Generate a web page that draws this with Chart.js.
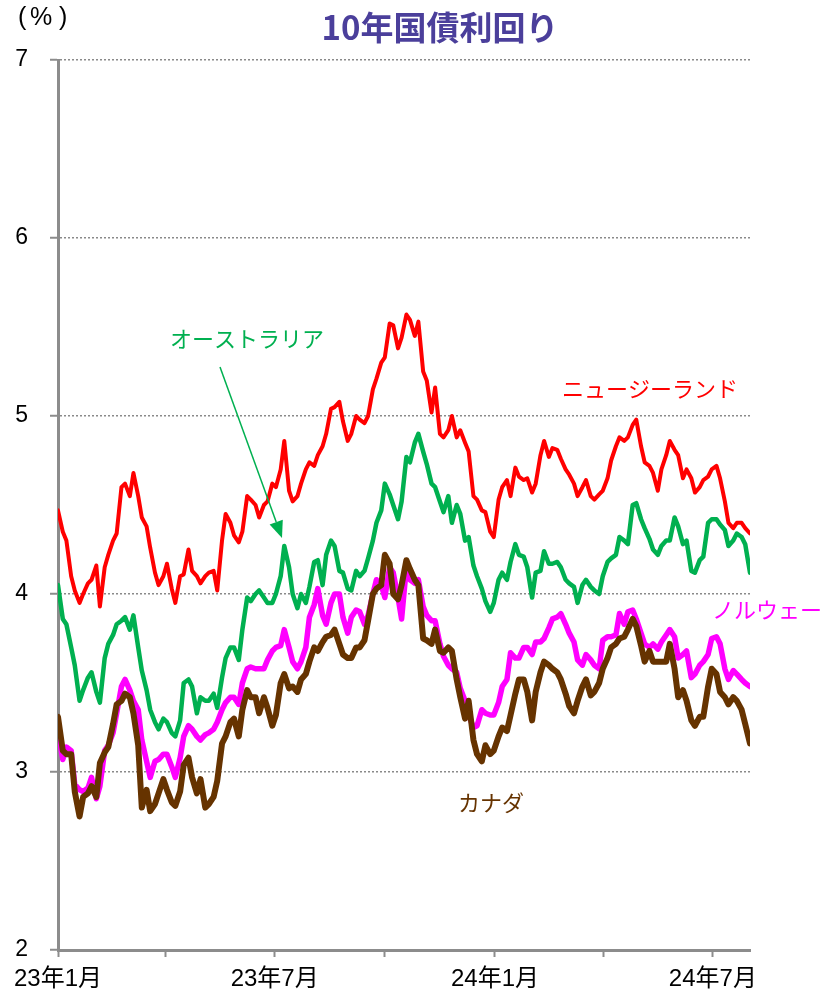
<!DOCTYPE html>
<html lang="ja">
<head>
<meta charset="utf-8">
<title>10年国債利回り</title>
<script src="https://cdn.jsdelivr.net/npm/chart.js@4.4.1/dist/chart.umd.min.js"></script>
<style>
    html, body { margin: 0; padding: 0; background: #fff; }
    #wrap { width: 821px; height: 996px; }
</style>
</head>
<body>
<div id="wrap"><canvas id="yieldChart" width="821" height="996"></canvas></div>
<script>
// days since 2023-01-01, two readings a week (last one is 2024-08-01)
const obsDays = [
    0, 4, 7, 11, 14, 18, 21, 25, 28, 32,
    35, 39, 42, 46, 49, 53, 56, 60, 63, 67,
    70, 74, 77, 81, 84, 88, 91, 95, 98, 102,
    105, 109, 112, 116, 119, 123, 126, 130, 133, 137,
    140, 144, 147, 151, 154, 158, 161, 165, 168, 172,
    175, 179, 182, 186, 189, 193, 196, 200, 203, 207,
    210, 214, 217, 221, 224, 228, 231, 235, 238, 242,
    245, 249, 252, 256, 259, 263, 266, 270, 273, 277,
    280, 284, 287, 291, 294, 298, 301, 305, 308, 312,
    315, 319, 322, 326, 329, 333, 336, 340, 343, 347,
    350, 354, 357, 361, 364, 368, 371, 375, 378, 382,
    385, 389, 392, 396, 399, 403, 406, 410, 413, 417,
    420, 424, 427, 431, 434, 438, 441, 445, 448, 452,
    455, 459, 462, 466, 469, 473, 476, 480, 483, 487,
    490, 494, 497, 501, 504, 508, 511, 515, 518, 522,
    525, 529, 532, 536, 539, 543, 546, 550, 553, 557,
    560, 564, 567, 571, 574, 578
];

// New Zealand
const nzYield = [
    4.47, 4.35, 4.30, 4.10, 4.02, 3.95, 4.00, 4.06, 4.08, 4.16,
    3.93, 4.15, 4.22, 4.30, 4.34, 4.60, 4.62, 4.55, 4.68, 4.55,
    4.43, 4.38, 4.26, 4.12, 4.05, 4.10, 4.17, 4.03, 3.95, 4.10,
    4.11, 4.25, 4.13, 4.10, 4.06, 4.10, 4.12, 4.13, 4.02, 4.30,
    4.45, 4.40, 4.33, 4.29, 4.35, 4.55, 4.53, 4.50, 4.43, 4.50,
    4.52, 4.62, 4.60, 4.70, 4.86, 4.58, 4.52, 4.55, 4.62, 4.70,
    4.74, 4.72, 4.78, 4.83, 4.90, 5.04, 5.05, 5.08, 4.97, 4.86,
    4.90, 5.00, 4.98, 4.96, 5.00, 5.15, 5.21, 5.30, 5.33, 5.52,
    5.51, 5.38, 5.44, 5.57, 5.54, 5.45, 5.53, 5.25, 5.20, 5.02,
    5.16, 4.90, 4.88, 4.92, 5.00, 4.88, 4.92, 4.85, 4.80, 4.55,
    4.53, 4.47, 4.46, 4.35, 4.32, 4.53, 4.60, 4.64, 4.55, 4.71,
    4.66, 4.64, 4.65, 4.57, 4.62, 4.78, 4.86, 4.77, 4.82, 4.81,
    4.76, 4.70, 4.67, 4.62, 4.55, 4.60, 4.64, 4.55, 4.53, 4.56,
    4.58, 4.65, 4.75, 4.83, 4.88, 4.86, 4.88, 4.95, 4.98, 4.83,
    4.74, 4.72, 4.68, 4.58, 4.70, 4.78, 4.86, 4.81, 4.78, 4.65,
    4.70, 4.65, 4.57, 4.60, 4.64, 4.66, 4.70, 4.72, 4.65, 4.52,
    4.40, 4.37, 4.40, 4.40, 4.37, 4.34
];

// Australia
const auYield = [
    4.05, 3.86, 3.83, 3.70, 3.60, 3.40, 3.46, 3.53, 3.56, 3.45,
    3.39, 3.64, 3.72, 3.77, 3.83, 3.85, 3.87, 3.80, 3.88, 3.70,
    3.57, 3.46, 3.35, 3.28, 3.24, 3.30, 3.28, 3.22, 3.20, 3.29,
    3.50, 3.52, 3.48, 3.33, 3.42, 3.40, 3.40, 3.44, 3.36, 3.53,
    3.64, 3.70, 3.70, 3.63, 3.80, 3.98, 3.96, 4.00, 4.02, 3.98,
    3.95, 3.95, 4.00, 4.10, 4.27, 4.15, 4.00, 3.92, 4.00, 3.95,
    4.04, 4.18, 4.19, 4.05, 4.22, 4.30, 4.27, 4.13, 4.12, 4.03,
    4.02, 4.13, 4.10, 4.13, 4.20, 4.30, 4.40, 4.47, 4.62, 4.56,
    4.50, 4.42, 4.52, 4.77, 4.74, 4.85, 4.90, 4.80, 4.73, 4.62,
    4.60, 4.52, 4.46, 4.55, 4.40, 4.50, 4.45, 4.30, 4.32, 4.16,
    4.10, 4.03, 3.96, 3.90, 3.95, 4.08, 4.12, 4.08, 4.18, 4.28,
    4.22, 4.21, 4.15, 3.98, 4.12, 4.13, 4.24, 4.17, 4.17, 4.18,
    4.15, 4.08, 4.06, 4.04, 3.95, 4.05, 4.08, 4.04, 4.02, 4.00,
    4.10, 4.18, 4.20, 4.22, 4.32, 4.30, 4.28, 4.50, 4.51, 4.42,
    4.37, 4.31, 4.25, 4.22, 4.27, 4.30, 4.30, 4.43, 4.38, 4.28,
    4.30, 4.13, 4.12, 4.19, 4.21, 4.40, 4.42, 4.42, 4.39, 4.36,
    4.27, 4.30, 4.34, 4.32, 4.28, 4.12
];

// Norway
const noYield = [
    3.22, 3.07, 3.14, 3.12, 2.93, 2.90, 2.89, 2.91, 2.97, 2.85,
    2.92, 3.12, 3.15, 3.22, 3.33, 3.48, 3.52, 3.46, 3.40, 3.35,
    3.18, 3.06, 2.97, 3.06, 3.07, 3.10, 3.10, 3.03, 2.97, 3.08,
    3.20, 3.26, 3.24, 3.20, 3.18, 3.21, 3.22, 3.24, 3.28, 3.35,
    3.39, 3.42, 3.42, 3.38, 3.50, 3.58, 3.59, 3.58, 3.58, 3.58,
    3.63, 3.68, 3.70, 3.71, 3.80, 3.70, 3.62, 3.58, 3.62, 3.70,
    3.87, 3.94, 4.03, 3.88, 3.83, 3.95, 4.00, 4.00, 3.87, 3.78,
    3.87, 3.91, 3.90, 3.83, 3.88, 4.00, 4.08, 4.05, 3.98, 4.15,
    4.12, 3.98, 3.86, 4.15, 4.08, 4.06, 4.08, 3.93, 3.88, 3.85,
    3.85, 3.72, 3.65, 3.60, 3.58, 3.56, 3.47, 3.40, 3.32, 3.25,
    3.26, 3.35, 3.33, 3.32, 3.32, 3.39, 3.48, 3.52, 3.67, 3.64,
    3.64, 3.70, 3.70, 3.66, 3.73, 3.73, 3.75, 3.81, 3.86, 3.87,
    3.89, 3.83, 3.78, 3.73, 3.63, 3.60, 3.66, 3.63, 3.60, 3.58,
    3.74, 3.76, 3.76, 3.77, 3.89, 3.83, 3.90, 3.91, 3.86, 3.78,
    3.72, 3.70, 3.72, 3.69, 3.73, 3.77, 3.80, 3.76, 3.64, 3.66,
    3.68, 3.53, 3.55, 3.60, 3.62, 3.66, 3.75, 3.76, 3.72, 3.58,
    3.52, 3.57, 3.55, 3.52, 3.50, 3.48
];

// Canada
const caYield = [
    3.31, 3.12, 3.10, 3.10, 2.89, 2.75, 2.86, 2.88, 2.92, 2.86,
    3.05, 3.11, 3.14, 3.27, 3.38, 3.40, 3.44, 3.42, 3.33, 3.15,
    2.80, 2.90, 2.78, 2.82, 2.88, 2.96, 2.90, 2.83, 2.81, 2.89,
    3.04, 3.08, 2.97, 2.88, 2.96, 2.80, 2.82, 2.86, 2.95, 3.16,
    3.20, 3.28, 3.30, 3.20, 3.35, 3.46, 3.42, 3.42, 3.33, 3.42,
    3.36, 3.26, 3.32, 3.50, 3.55, 3.47, 3.48, 3.45, 3.52, 3.55,
    3.62, 3.70, 3.68, 3.73, 3.76, 3.77, 3.80, 3.72, 3.66, 3.64,
    3.64, 3.70, 3.70, 3.74, 3.85, 4.00, 4.03, 4.05, 4.22, 4.17,
    4.00, 3.97, 4.05, 4.19, 4.14, 4.08, 4.05, 3.75, 3.74, 3.72,
    3.80, 3.68, 3.67, 3.70, 3.68, 3.52, 3.42, 3.30, 3.40, 3.18,
    3.10, 3.06, 3.15, 3.10, 3.12, 3.20, 3.25, 3.23, 3.32, 3.44,
    3.52, 3.52, 3.45, 3.29, 3.45, 3.56, 3.62, 3.60, 3.58, 3.56,
    3.52, 3.44, 3.37, 3.33, 3.40, 3.48, 3.52, 3.43, 3.45, 3.50,
    3.58, 3.64, 3.70, 3.72, 3.75, 3.76, 3.80, 3.86, 3.82, 3.71,
    3.62, 3.68, 3.62, 3.62, 3.62, 3.62, 3.72, 3.58, 3.42, 3.46,
    3.40, 3.29, 3.26, 3.31, 3.31, 3.48, 3.58, 3.55, 3.45, 3.42,
    3.38, 3.42, 3.40, 3.35, 3.27, 3.16
];

// quarterly tick marks on the x axis, labels only every half year
const tickDays = [0, 90, 181, 273, 365, 456, 547];
const tickLabels = ['23年1月', '', '23年7月', '', '24年1月', '', '24年7月'];

const FONT_LATIN = '"Liberation Sans", Arial, "Noto Sans CJK JP", sans-serif';
const FONT_JP = '"Noto Sans CJK JP", "Liberation Sans", sans-serif';
const AXIS_GRAY = '#8c8c8c';

function toPoints(values) {
    return values.map((v, i) => ({ x: obsDays[i], y: v }));
}

function makeDataset(label, values, color, width) {
    return {
        label: label,
        data: toPoints(values),
        borderColor: color,
        backgroundColor: color,
        borderWidth: width,
        borderJoinStyle: 'round',
        borderCapStyle: 'round',
        pointRadius: 0,
        tension: 0,
        fill: false
    };
}

// Title, unit, series names and the arrow
const annotationPlugin = {
    id: 'annotations',
    afterDraw(chart) {
        const ctx = chart.ctx;
        ctx.save();
        ctx.textBaseline = 'middle';

        // unit "（%）"
        ctx.fillStyle = '#000';
        ctx.textAlign = 'left';
        ctx.font = '25px ' + FONT_LATIN;
        ctx.fillText('(', 18, 18);
        ctx.fillText('%', 30, 18);
        ctx.fillText(')', 59, 18);

        ctx.fillStyle = '#4b3f9b';
        ctx.textAlign = 'center';
        ctx.font = 'bold 33px ' + FONT_JP;
        ctx.fillText('10年国債利回り', 440, 27);

        ctx.textAlign = 'left';
        ctx.font = '22px ' + FONT_JP;
        const labels = [
            ['オーストラリア', '#00b050', 170, 339],
            ['ニュージーランド', '#ff0000', 562, 389],
            ['ノルウェー', '#ff00ff', 712, 610],
            ['カナダ', '#663300', 458, 803]
        ];
        labels.forEach(([text, color, x, y]) => {
            ctx.fillStyle = color;
            ctx.fillText(text, x, y);
        });

        // arrow from the Australia label to its line
        const x1 = 220, y1 = 367, x2 = 282, y2 = 538;
        const ang = Math.atan2(y2 - y1, x2 - x1);
        const headLen = 17, headHalf = 7;
        const bx = x2 - headLen * Math.cos(ang);
        const by = y2 - headLen * Math.sin(ang);
        ctx.strokeStyle = '#00b050';
        ctx.fillStyle = '#00b050';
        ctx.lineWidth = 1.5;
        ctx.beginPath();
        ctx.moveTo(x1, y1);
        ctx.lineTo(bx, by);
        ctx.stroke();
        ctx.beginPath();
        ctx.moveTo(x2, y2);
        ctx.lineTo(bx + headHalf * Math.sin(ang), by - headHalf * Math.cos(ang));
        ctx.lineTo(bx - headHalf * Math.sin(ang), by + headHalf * Math.cos(ang));
        ctx.closePath();
        ctx.fill();

        ctx.restore();
    }
};

const ctx = document.getElementById('yieldChart').getContext('2d');
new Chart(ctx, {
    type: 'line',
    data: {
        datasets: [
            makeDataset('ニュージーランド', nzYield, '#ff0000', 4),
            makeDataset('オーストラリア', auYield, '#00b050', 4.5),
            makeDataset('カナダ', caYield, '#663300', 6),
            makeDataset('ノルウェー', noYield, '#ff00ff', 5.5)
        ]
    },
    options: {
        responsive: false,
        animation: false,
        layout: {
            padding: { top: 60, right: 71, bottom: 0, left: 0 }
        },
        scales: {
            x: {
                type: 'linear',
                min: 0,
                max: 578,
                afterBuildTicks: scale => {
                    scale.ticks = tickDays.map(d => ({ value: d }));
                },
                afterFit: scale => { scale.height = 46; },
                ticks: {
                    autoSkip: false,
                    maxRotation: 0,
                    padding: 8,
                    color: '#000',
                    font: { family: FONT_LATIN, size: 24 },
                    callback: value => tickLabels[tickDays.indexOf(value)] ?? ''
                },
                grid: {
                    drawOnChartArea: false,
                    drawTicks: true,
                    tickLength: 7,
                    tickWidth: 2,
                    tickColor: AXIS_GRAY
                },
                border: { display: true, color: AXIS_GRAY, width: 3 }
            },
            y: {
                min: 2,
                max: 7,
                afterFit: scale => { scale.width = 58; },
                ticks: {
                    stepSize: 1,
                    padding: 22,
                    color: '#000',
                    font: { family: FONT_LATIN, size: 23 }
                },
                grid: {
                    color: '#8a8a8a',
                    lineWidth: 1.5,
                    tickLength: 8,
                    tickWidth: 2,
                    tickColor: AXIS_GRAY,
                    tickBorderDash: []
                },
                border: { display: true, color: AXIS_GRAY, width: 3, dash: [2, 2] }
            }
        },
        plugins: {
            legend: { display: false },
            title: { display: false },
            tooltip: { enabled: false }
        }
    },
    plugins: [annotationPlugin]
});
</script>
</body>
</html>
